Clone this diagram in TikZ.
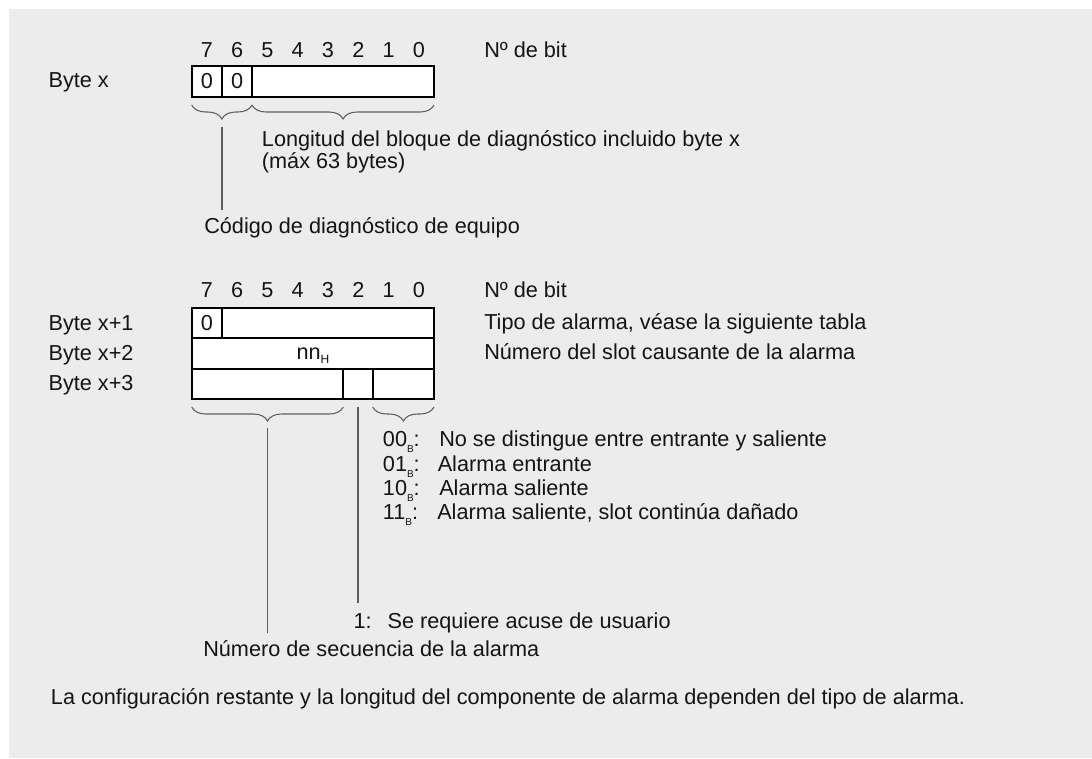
\documentclass[tikz,border=0pt]{standalone}
\usepackage{fontspec}
\setmainfont{Liberation Sans}
\usetikzlibrary{decorations.pathreplacing}
\definecolor{bg}{RGB}{236,236,236}
\definecolor{ln}{RGB}{95,95,95}
\definecolor{tx}{RGB}{20,20,20}
\newcommand\subB[1]{\raisebox{-4.5pt}{\fontsize{7.5}{8}\selectfont #1}}
\newcommand\subH[1]{\raisebox{-3pt}{\fontsize{9}{9}\selectfont #1}}
\begin{document}
\begin{tikzpicture}[x=0.75pt,y=-0.75pt,
  txt/.style={anchor=base west,inner sep=0pt,text=tx,font=\fontsize{16.25}{18}\selectfont},
  ctxt/.style={anchor=base,inner sep=0pt,text=tx,font=\fontsize{16.25}{18}\selectfont},
  cellbox/.style={draw=black,line width=1.5pt,fill=white},
  divider/.style={draw=black,line width=1.5pt},
  brc/.style={draw=ln,line width=0.8pt,decorate,decoration={brace,amplitude=10.5pt}},
  lead/.style={draw=ln,line width=1.1pt}]
\useasboundingbox (0,0) rectangle (1092,758);
\fill[bg] (9,9) rectangle (1092,758);

% ---------- Byte x ----------
\foreach \b [count=\i from 0] in {7,6,5,4,3,2,1,0}
  \node[ctxt] (ba\b) at ({206.85+30.29*\i},57.7) {\b};
\node[txt] (nbit1) at (484,57.7) {Nº de bit};
\node[txt] (bx) at (48.3,87.5) {Byte x};
\draw[cellbox] (191.7,66) rectangle (434,96.7);
\draw[divider] (221.7,66) -- (221.7,96.7);
\draw[divider] (252,66) -- (252,96.7);
\node[ctxt] (z1) at (206.85,88) {0};
\node[ctxt] (z2) at (237.1,88) {0};

\draw[brc] (252,105) -- (191.7,105);
\draw[brc] (434,105) -- (252,105);
\coordinate (t1) at (222,127);
\coordinate (t1e) at (222,210);
\draw[lead] (t1) -- (t1e);

\node[txt] (lon1) at (261.7,146) {Longitud del bloque de diagnóstico incluido byte x};
\node[txt] (lon2) at (261.7,168) {(máx 63 bytes)};
\node[txt] (cod) at (204,233.3) {Código de diagnóstico de equipo};

% ---------- Bytes x+1 .. x+3 ----------
\foreach \b [count=\i from 0] in {7,6,5,4,3,2,1,0}
  \node[ctxt] (bb\b) at ({206.85+30.29*\i},297.7) {\b};
\node[txt] (nbit2) at (484,297.7) {Nº de bit};
\node[txt] (bx1) at (48.3,330) {Byte x+1};
\node[txt] (bx2) at (48.3,360.5) {Byte x+2};
\node[txt] (bx3) at (48.3,390.7) {Byte x+3};
\node[txt] (tipo) at (484,329.5) {Tipo de alarma, véase la siguiente tabla};
\node[txt] (slot) at (484,359.5) {Número del slot causante de la alarma};

\draw[cellbox] (191.7,308.3) rectangle (434,399);
\draw[divider] (191.7,338.3) -- (434,338.3);
\draw[divider] (191.7,368.6) -- (434,368.6);
\draw[divider] (221.7,308.3) -- (221.7,338.3);
\draw[divider] (343.3,368.6) -- (343.3,399);
\draw[divider] (373,368.6) -- (373,399);
\node[ctxt] (z3) at (206.85,330) {0};
\node[ctxt] (nn) at (313,359.5) {nn\subH{H}};

\draw[brc] (343.3,407) -- (191.7,407);
\draw[brc] (434,407) -- (372.7,407);
\coordinate (s1) at (267.5,428);
\coordinate (s1e) at (267.5,632.7);
\coordinate (a1) at (358,407);
\coordinate (a1e) at (358,603);
\draw[lead] (s1) -- (s1e);
\draw[lead] (a1) -- (a1e);

\node[txt] (c0) at (382.7,446.7) {00\subB{B}:};
\node[txt] (d0) at (439,446.7) {No se distingue entre entrante y saliente};
\node[txt] (c1) at (382.7,471) {01\subB{B}:};
\node[txt] (d1) at (437.5,471) {Alarma entrante};
\node[txt] (c2) at (382.7,495.3) {10\subB{B}:};
\node[txt] (d2) at (439,495.3) {Alarma saliente};
\node[txt] (c3) at (382.7,519.6) {11\subB{B}:};
\node[txt] (d3) at (437,519.6) {Alarma saliente, slot continúa dañado};

\node[txt] (q1) at (353.3,628) {1:};
\node[txt] (q1d) at (387.3,628) {Se requiere acuse de usuario};
\node[txt] (seq) at (203,656.7) {Número de secuencia de la alarma};

\node[txt] (foot) at (50.7,704) {La configuración restante y la longitud del componente de alarma dependen del tipo de alarma.};
\end{tikzpicture}
\end{document}
